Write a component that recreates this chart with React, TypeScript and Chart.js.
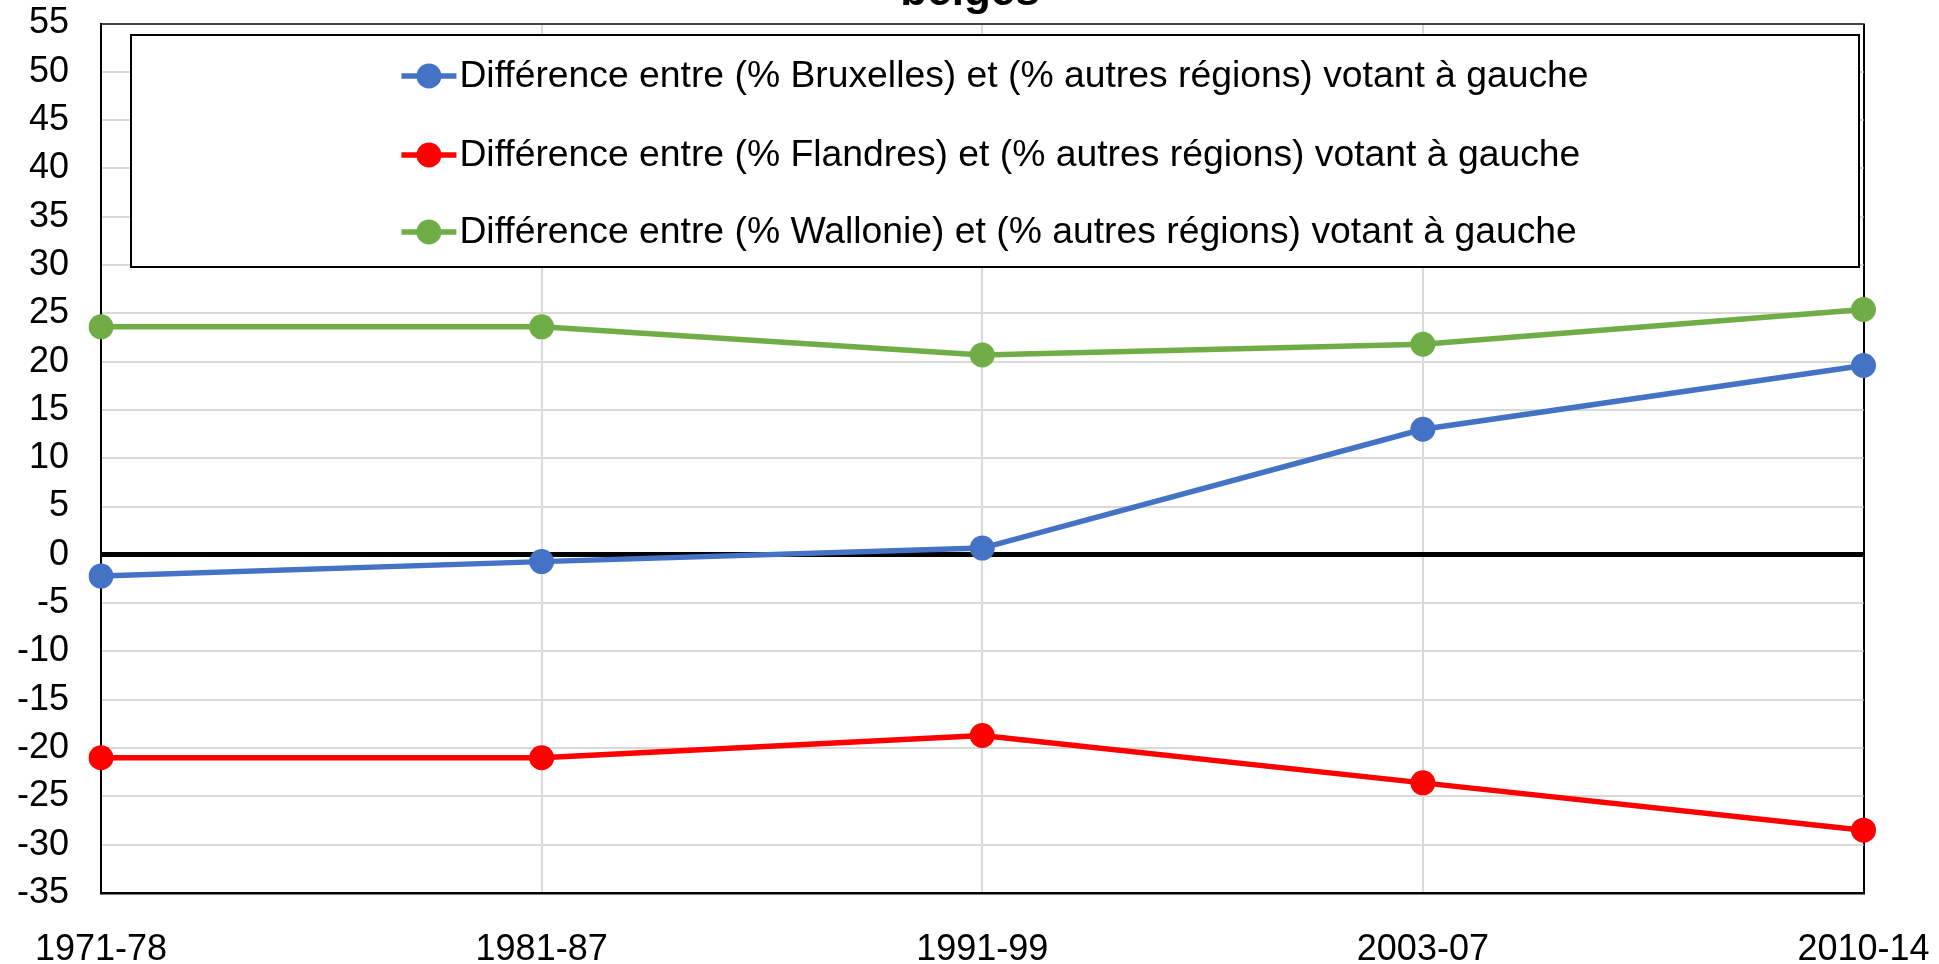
import React, { useEffect, useRef } from "react";
import { Chart, registerables } from "chart.js";

Chart.register(...registerables);

const categories = ["1971-78", "1981-87", "1991-99", "2003-07", "2010-14"];
const bruxelles = [-2.2, -0.7, 0.7, 13.0, 19.6];
const flandres = [-21.0, -21.0, -18.7, -23.6, -28.5];
const wallonie = [23.6, 23.6, 20.7, 21.8, 25.4];
const seriesLabels = [
  "Différence entre (% Bruxelles) et (% autres régions) votant à gauche",
  "Différence entre (% Flandres) et (% autres régions) votant à gauche",
  "Différence entre (% Wallonie) et (% autres régions) votant à gauche",
];
const titleText = "belges";

const FONT = "'Liberation Sans', Arial, sans-serif";

const legendPlugin = {
  id: "boxLegend",
  afterDraw(chart: any) {
    const ctx = chart.ctx;
    const x0 = 131, y0 = 35, x1 = 1859, y1 = 267;
    ctx.save();
    ctx.fillStyle = "#fff";
    ctx.fillRect(x0, y0, x1 - x0, y1 - y0);
    ctx.strokeStyle = "#000";
    ctx.lineWidth = 2;
    ctx.strokeRect(x0, y0, x1 - x0, y1 - y0);
    ctx.font = `37.3px ${FONT}`;
    ctx.textBaseline = "middle";
    ctx.textAlign = "left";
    const ds = chart.data.datasets;
    let maxW = 0;
    ds.forEach((d: any) => {
      maxW = Math.max(maxW, ctx.measureText(d.label).width);
    });
    const markerW = 55;
    const gap = 3;
    const total = markerW + gap + maxW;
    const startX = (x0 + x1) / 2 - total / 2;
    const rows = [76, 155, 232];
    ds.forEach((d: any, i: number) => {
      const y = rows[i];
      ctx.strokeStyle = d.borderColor;
      ctx.lineWidth = 5.5;
      ctx.beginPath();
      ctx.moveTo(startX, y);
      ctx.lineTo(startX + markerW, y);
      ctx.stroke();
      ctx.fillStyle = d.borderColor;
      ctx.beginPath();
      ctx.arc(startX + markerW / 2, y, 12.5, 0, Math.PI * 2);
      ctx.fill();
      ctx.fillStyle = "#000";
      ctx.fillText(d.label, startX + markerW + gap, y + 1);
    });
    ctx.restore();
  },
};

const titlePlugin = {
  id: "cutTitle",
  afterDraw(chart: any) {
    const ctx = chart.ctx;
    ctx.save();
    ctx.font = `bold 44px ${FONT}`;
    ctx.fillStyle = "#000";
    ctx.textAlign = "center";
    ctx.textBaseline = "alphabetic";
    ctx.fillText(titleText, 970, 5);
    ctx.restore();
  },
};

const zeroPad = (s: any) => {
  s.paddingTop = 0;
  s.paddingBottom = 0;
  s.paddingLeft = 0;
  s.paddingRight = 0;
};

export default function App() {
  const ref = useRef<HTMLCanvasElement | null>(null);
  useEffect(() => {
    if (!ref.current) return;
    const mk = (label: string, data: number[], color: string) => ({
      label,
      data,
      borderColor: color,
      backgroundColor: color,
      pointBackgroundColor: color,
      pointBorderColor: color,
      borderWidth: 5.5,
      pointRadius: 12.5,
      pointBorderWidth: 0,
      tension: 0,
    });
    const chart = new Chart(ref.current, {
      type: "line",
      data: {
        labels: categories,
        datasets: [
          mk(seriesLabels[0], bruxelles, "#4472C4"),
          mk(seriesLabels[1], flandres, "#FF0000"),
          mk(seriesLabels[2], wallonie, "#70AD47"),
        ],
      },
      options: {
        animation: false,
        responsive: true,
        maintainAspectRatio: false,
        layout: { padding: { top: 23.5, right: 75.5, left: 0, bottom: 0 } },
        plugins: {
          legend: { display: false },
          title: { display: false },
          tooltip: { enabled: false },
        },
        scales: {
          x: {
            offset: false,
            grid: {
              offset: false,
              drawTicks: false,
              color: (c: any) => (c.index === categories.length - 1 ? "#000" : "#d9d9d9"),
              lineWidth: 2,
            },
            border: { color: "#000", width: 2.5 },
            ticks: {
              color: "#000",
              font: { family: FONT, size: 36 },
              padding: 35,
              maxRotation: 0,
              autoSkip: false,
            },
            afterFit: (s: any) => {
              s.height = 71;
              zeroPad(s);
            },
          },
          y: {
            min: -35,
            max: 55,
            grid: {
              drawTicks: false,
              color: (c: any) => {
                const v = c.tick?.value;
                if (v === 0) return "#000";
                if (v === 55) return "#444";
                return "#d9d9d9";
              },
              lineWidth: (c: any) => {
                const v = c.tick?.value;
                if (v === 0) return 5;
                return 2;
              },
            },
            border: { color: "#000", width: 2 },
            ticks: {
              stepSize: 5,
              color: "#000",
              font: { family: FONT, size: 36 },
              padding: 32,
            },
            afterFit: (s: any) => {
              s.width = 101;
              zeroPad(s);
            },
          },
        },
      },
      plugins: [legendPlugin, titlePlugin],
    });
    return () => chart.destroy();
  }, []);
  return (
    <div style={{ position: "fixed", left: 0, top: 0, width: 1939, height: 964, background: "#fff" }}>
      <canvas ref={ref} />
    </div>
  );
}
